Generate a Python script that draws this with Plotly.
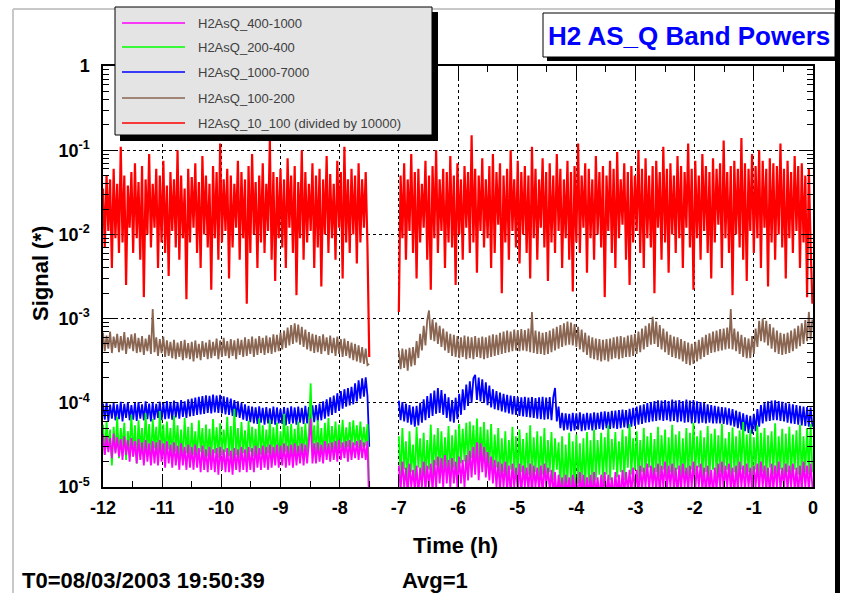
import plotly.graph_objects as go

# ---------------- data ----------------
STEP_H = 0.03            # sampling step (hours)
START_A = -12.0          # first segment start
START_B = -7.0           # second segment start (after the data gap)

SERIES_NAMES = ["H2AsQ_400-1000", "H2AsQ_200-400", "H2AsQ_1000-7000",
                "H2AsQ_100-200", "H2AsQ_10_100 (divided by 10000)"]

RED_A = [0.035, 0.007, 0.05, 0.011, 0.045, 0.004, 0.06, 0.009, 0.04, 0.006,
         0.11, 0.008, 0.05, 0.0025, 0.038, 0.012, 0.055, 0.006, 0.07, 0.009,
         0.042, 0.005, 0.065, 0.0018, 0.045, 0.01, 0.09, 0.007, 0.04, 0.012,
         0.06, 0.004, 0.05, 0.008, 0.075, 0.006, 0.038, 0.0032, 0.055, 0.011,
         0.045, 0.007, 0.1, 0.005, 0.05, 0.009, 0.035, 0.0017, 0.06, 0.008,
         0.048, 0.012, 0.07, 0.006, 0.042, 0.004, 0.085, 0.01, 0.05, 0.007,
         0.04, 0.0022, 0.065, 0.009, 0.055, 0.005, 0.12, 0.008, 0.045, 0.011,
         0.06, 0.003, 0.05, 0.007, 0.04, 0.012, 0.075, 0.005, 0.055, 0.009,
         0.045, 0.0015, 0.065, 0.006, 0.09, 0.01, 0.042, 0.004, 0.05, 0.008,
         0.07, 0.006, 0.04, 0.011, 0.13, 0.005, 0.055, 0.0028, 0.048, 0.009,
         0.06, 0.007, 0.045, 0.004, 0.08, 0.012, 0.05, 0.006, 0.065, 0.0019,
         0.042, 0.009, 0.1, 0.005, 0.055, 0.008, 0.04, 0.011, 0.07, 0.004,
         0.05, 0.007, 0.06, 0.0024, 0.045, 0.01, 0.085, 0.006, 0.052, 0.009,
         0.04, 0.005, 0.075, 0.012, 0.055, 0.003, 0.11, 0.008, 0.045, 0.006,
         0.06, 0.01, 0.05, 0.0045, 0.07, 0.008, 0.045, 0.012, 0.055, 0.007,
         0.00035]
RED_B = [0.0012, 0.05, 0.009, 0.07, 0.005, 0.045, 0.011, 0.09, 0.006, 0.055,
         0.003, 0.06, 0.008, 0.04, 0.012, 0.075, 0.005, 0.05, 0.0022, 0.065,
         0.009, 0.1, 0.006, 0.045, 0.011, 0.06, 0.004, 0.055, 0.008, 0.085,
         0.007, 0.05, 0.0025, 0.07, 0.01, 0.045, 0.005, 0.065, 0.012, 0.055,
         0.006, 0.15, 0.008, 0.06, 0.0035, 0.05, 0.011, 0.08, 0.007, 0.045,
         0.009, 0.065, 0.004, 0.09, 0.006, 0.055, 0.013, 0.07, 0.002, 0.05,
         0.008, 0.06, 0.005, 0.1, 0.011, 0.045, 0.007, 0.075, 0.0045, 0.055,
         0.01, 0.065, 0.006, 0.05, 0.003, 0.11, 0.009, 0.06, 0.005, 0.045,
         0.012, 0.08, 0.007, 0.055, 0.0028, 0.07, 0.008, 0.05, 0.006, 0.09,
         0.011, 0.06, 0.004, 0.045, 0.009, 0.075, 0.005, 0.055, 0.0021, 0.065,
         0.008, 0.12, 0.006, 0.05, 0.012, 0.07, 0.0035, 0.06, 0.009, 0.045,
         0.005, 0.085, 0.01, 0.055, 0.007, 0.065, 0.0018, 0.05, 0.011, 0.075,
         0.006, 0.06, 0.004, 0.095, 0.009, 0.045, 0.013, 0.07, 0.005, 0.055,
         0.0025, 0.065, 0.008, 0.05, 0.011, 0.1, 0.006, 0.06, 0.004, 0.08,
         0.009, 0.05, 0.007, 0.065, 0.002, 0.075, 0.012, 0.055, 0.005, 0.11,
         0.008, 0.06, 0.0035, 0.07, 0.01, 0.05, 0.006, 0.085, 0.009, 0.065,
         0.004, 0.055, 0.012, 0.12, 0.007, 0.06, 0.0022, 0.075, 0.009, 0.05,
         0.005, 0.09, 0.011, 0.065, 0.006, 0.055, 0.003, 0.08, 0.008, 0.06,
         0.013, 0.07, 0.004, 0.13, 0.009, 0.055, 0.006, 0.065, 0.0019, 0.075,
         0.01, 0.06, 0.007, 0.14, 0.005, 0.07, 0.0028, 0.06, 0.011, 0.09,
         0.006, 0.065, 0.009, 0.1, 0.004, 0.075, 0.012, 0.06, 0.0024, 0.08,
         0.008, 0.07, 0.005, 0.065, 0.01, 0.12, 0.007, 0.06, 0.003, 0.075,
         0.009, 0.055, 0.006, 0.085, 0.011, 0.065, 0.004, 0.07, 0.008, 0.05,
         0.0018, 0.06, 0.007, 0.0015]

BROWN_A = [6.8e-4, 4.1e-4, 6.3e-4, 4.4e-4, 7.0e-4, 3.9e-4, 6.1e-4, 4.5e-4, 6.6e-4, 4.0e-4,
           6.2e-4, 4.2e-4, 6.9e-4, 3.8e-4, 6.0e-4, 4.4e-4, 6.5e-4, 4.1e-4, 6.7e-4, 3.9e-4,
           5.9e-4, 4.0e-4, 6.2e-4, 3.7e-4, 5.8e-4, 4.1e-4, 6.4e-4, 3.8e-4, 1.3e-3, 4.0e-4,
           6.0e-4, 3.6e-4, 5.7e-4, 3.9e-4, 6.1e-4, 3.5e-4, 5.5e-4, 3.6e-4, 5.3e-4, 3.4e-4,
           5.6e-4, 3.3e-4, 5.2e-4, 3.5e-4, 5.4e-4, 3.2e-4, 5.6e-4, 3.4e-4, 5.1e-4, 3.3e-4,
           5.3e-4, 3.1e-4, 5.5e-4, 3.4e-4, 5.0e-4, 3.2e-4, 5.4e-4, 3.5e-4, 5.2e-4, 3.3e-4,
           5.6e-4, 3.4e-4, 5.3e-4, 3.6e-4, 5.8e-4, 3.3e-4, 5.5e-4, 3.5e-4, 5.9e-4, 3.6e-4,
           5.4e-4, 3.4e-4, 5.7e-4, 3.6e-4, 5.5e-4, 3.3e-4, 5.8e-4, 3.7e-4, 5.6e-4, 3.5e-4,
           6.0e-4, 3.6e-4, 5.7e-4, 3.8e-4, 6.1e-4, 3.5e-4, 5.8e-4, 3.7e-4, 6.2e-4, 3.9e-4,
           5.9e-4, 3.7e-4, 6.3e-4, 3.9e-4, 6.0e-4, 3.8e-4, 6.5e-4, 4.0e-4, 6.4e-4, 4.1e-4,
           6.8e-4, 4.3e-4, 7.2e-4, 4.5e-4, 7.8e-4, 4.8e-4, 8.4e-4, 5.0e-4, 8.8e-4, 5.2e-4,
           8.5e-4, 4.9e-4, 8.0e-4, 4.6e-4, 7.4e-4, 4.3e-4, 6.9e-4, 4.1e-4, 6.6e-4, 3.9e-4,
           6.4e-4, 4.0e-4, 6.2e-4, 3.8e-4, 6.5e-4, 4.1e-4, 6.0e-4, 3.7e-4, 6.3e-4, 3.9e-4,
           5.9e-4, 3.6e-4, 6.1e-4, 3.8e-4, 5.7e-4, 3.5e-4, 5.8e-4, 3.6e-4, 5.4e-4, 3.4e-4,
           5.2e-4, 3.2e-4, 5.0e-4, 3.1e-4, 4.8e-4, 3.0e-4, 4.6e-4, 2.9e-4, 4.4e-4, 2.8e-4,
           2.9e-4]
BROWN_B = [4.2e-4, 2.5e-4, 4.4e-4, 2.6e-4, 4.3e-4, 2.4e-4, 4.5e-4, 2.7e-4, 4.6e-4, 2.8e-4,
           5.4e-4, 3.4e-4, 6.6e-4, 4.2e-4, 8.2e-4, 4.8e-4, 9.6e-4, 1.25e-3, 5.6e-4, 9.8e-4,
           5.4e-4, 9.0e-4, 5.0e-4, 8.2e-4, 4.6e-4, 7.6e-4, 4.2e-4, 7.0e-4, 3.9e-4, 6.6e-4,
           3.6e-4, 6.4e-4, 3.5e-4, 6.2e-4, 3.4e-4, 6.0e-4, 3.5e-4, 6.3e-4, 3.3e-4, 6.1e-4,
           3.4e-4, 6.0e-4, 3.3e-4, 6.2e-4, 3.5e-4, 5.9e-4, 3.4e-4, 6.1e-4, 3.3e-4, 6.0e-4,
           3.4e-4, 6.3e-4, 3.5e-4, 6.5e-4, 3.6e-4, 6.4e-4, 3.7e-4, 6.8e-4, 3.8e-4, 7.0e-4,
           3.9e-4, 7.2e-4, 4.0e-4, 7.0e-4, 4.1e-4, 7.4e-4, 4.2e-4, 7.3e-4, 4.1e-4, 7.5e-4,
           4.2e-4, 7.3e-4, 4.1e-4, 7.6e-4, 4.0e-4, 1.2e-3, 3.9e-4, 7.2e-4, 3.8e-4, 7.0e-4,
           3.8e-4, 6.8e-4, 3.7e-4, 6.9e-4, 3.8e-4, 7.2e-4, 4.0e-4, 7.6e-4, 4.2e-4, 8.0e-4,
           4.4e-4, 8.4e-4, 4.6e-4, 8.8e-4, 4.8e-4, 9.2e-4, 4.9e-4, 9.0e-4, 4.8e-4, 8.6e-4,
           4.6e-4, 8.0e-4, 4.3e-4, 7.4e-4, 4.0e-4, 6.8e-4, 3.7e-4, 6.3e-4, 3.4e-4, 6.0e-4,
           3.3e-4, 5.8e-4, 3.2e-4, 5.7e-4, 3.1e-4, 5.6e-4, 3.2e-4, 5.7e-4, 3.1e-4, 5.8e-4,
           3.3e-4, 6.0e-4, 3.4e-4, 6.1e-4, 3.3e-4, 6.2e-4, 3.4e-4, 6.0e-4, 3.5e-4, 6.3e-4,
           3.5e-4, 6.4e-4, 3.6e-4, 6.6e-4, 3.8e-4, 7.0e-4, 4.0e-4, 7.6e-4, 4.3e-4, 8.2e-4,
           4.6e-4, 8.8e-4, 4.9e-4, 1.05e-3, 5.0e-4, 9.2e-4, 4.6e-4, 8.4e-4, 4.3e-4, 7.6e-4,
           4.0e-4, 7.0e-4, 3.7e-4, 6.4e-4, 3.5e-4, 6.1e-4, 3.4e-4, 6.0e-4, 3.3e-4, 5.7e-4,
           3.1e-4, 5.4e-4, 2.9e-4, 5.2e-4, 2.8e-4, 5.0e-4, 2.9e-4, 5.3e-4, 3.1e-4, 5.6e-4,
           3.3e-4, 6.0e-4, 3.5e-4, 6.4e-4, 3.7e-4, 6.7e-4, 3.9e-4, 7.0e-4, 4.0e-4, 7.2e-4,
           4.1e-4, 7.5e-4, 4.2e-4, 7.6e-4, 4.3e-4, 7.8e-4, 4.4e-4, 1.3e-3, 4.3e-4, 7.6e-4,
           4.1e-4, 7.0e-4, 3.8e-4, 6.4e-4, 3.5e-4, 6.0e-4, 3.4e-4, 5.8e-4, 3.4e-4, 6.2e-4,
           3.8e-4, 7.6e-4, 4.6e-4, 9.4e-4, 5.4e-4, 1.0e-3, 5.2e-4, 9.4e-4, 4.8e-4, 8.6e-4,
           4.4e-4, 7.8e-4, 4.0e-4, 7.2e-4, 3.8e-4, 6.8e-4, 3.7e-4, 6.6e-4, 3.8e-4, 6.8e-4,
           3.9e-4, 7.2e-4, 4.1e-4, 7.6e-4, 4.4e-4, 8.2e-4, 4.7e-4, 8.8e-4, 5.0e-4, 9.6e-4,
           5.4e-4, 1.2e-3, 5.6e-4, 9.8e-4]

BLUE_A = [9.8e-5, 6.3e-5, 1.02e-4, 6.1e-5, 9.5e-5, 6.5e-5, 1.0e-4, 6.2e-5, 9.6e-5, 6.4e-5,
          1.03e-4, 6.0e-5, 9.7e-5, 6.6e-5, 1.01e-4, 6.2e-5, 9.4e-5, 6.3e-5, 9.9e-5, 6.1e-5,
          1.02e-4, 6.5e-5, 9.6e-5, 6.2e-5, 1.04e-4, 6.4e-5, 9.8e-5, 6.0e-5, 1.0e-4, 6.3e-5,
          9.7e-5, 6.6e-5, 1.03e-4, 6.2e-5, 9.9e-5, 6.4e-5, 1.05e-4, 6.5e-5, 1.01e-4, 6.3e-5,
          1.06e-4, 6.7e-5, 1.02e-4, 6.5e-5, 1.08e-4, 6.8e-5, 1.04e-4, 6.6e-5, 1.1e-4, 6.9e-5,
          1.12e-4, 7.0e-5, 1.15e-4, 7.2e-5, 1.18e-4, 7.3e-5, 1.2e-4, 7.4e-5, 1.23e-4, 7.6e-5,
          1.21e-4, 7.5e-5, 1.25e-4, 7.7e-5, 1.22e-4, 7.6e-5, 1.24e-4, 7.5e-5, 1.19e-4, 7.3e-5,
          1.16e-4, 7.2e-5, 1.12e-4, 7.0e-5, 1.08e-4, 6.8e-5, 1.04e-4, 6.6e-5, 1.0e-4, 6.3e-5,
          9.6e-5, 6.1e-5, 9.2e-5, 5.9e-5, 9.0e-5, 5.7e-5, 8.8e-5, 5.6e-5, 9.1e-5, 5.8e-5,
          8.7e-5, 5.5e-5, 8.9e-5, 5.7e-5, 8.6e-5, 5.6e-5, 9.0e-5, 5.5e-5, 8.8e-5, 5.7e-5,
          8.5e-5, 5.6e-5, 8.9e-5, 5.4e-5, 8.7e-5, 5.6e-5, 9.1e-5, 5.7e-5, 8.8e-5, 5.5e-5,
          9.0e-5, 5.8e-5, 8.7e-5, 5.6e-5, 9.2e-5, 5.7e-5, 8.9e-5, 5.8e-5, 9.3e-5, 5.9e-5,
          9.4e-5, 6.0e-5, 9.8e-5, 6.2e-5, 1.04e-4, 6.5e-5, 1.1e-4, 6.9e-5, 1.16e-4, 7.2e-5,
          1.22e-4, 7.6e-5, 1.3e-4, 8.0e-5, 1.38e-4, 8.5e-5, 1.45e-4, 9.0e-5, 1.5e-4, 9.3e-5,
          1.55e-4, 9.6e-5, 1.7e-4, 1.04e-4, 1.85e-4, 1.12e-4, 1.95e-4, 1.18e-4, 2.0e-4, 1.2e-4,
          3.0e-5]
BLUE_B = [1.06e-4, 6.2e-5, 1.02e-4, 6.0e-5, 9.8e-5, 5.8e-5, 9.4e-5, 5.5e-5, 9.0e-5, 5.2e-5,
          9.2e-5, 5.4e-5, 1.0e-4, 5.8e-5, 1.1e-4, 6.2e-5, 1.2e-4, 6.6e-5, 1.3e-4, 7.0e-5,
          1.4e-4, 7.4e-5, 1.5e-4, 7.6e-5, 1.42e-4, 7.2e-5, 1.28e-4, 6.6e-5, 1.16e-4, 6.0e-5,
          1.08e-4, 5.8e-5, 1.15e-4, 6.4e-5, 1.28e-4, 7.2e-5, 1.45e-4, 8.2e-5, 1.65e-4, 9.2e-5,
          1.8e-4, 1.0e-4, 1.95e-4, 2.15e-4, 1.08e-4, 2.0e-4, 1.04e-4, 1.9e-4, 1.0e-4, 1.75e-4,
          9.4e-5, 1.6e-4, 8.8e-5, 1.45e-4, 8.4e-5, 1.38e-4, 8.2e-5, 1.32e-4, 7.9e-5, 1.28e-4,
          7.7e-5, 1.24e-4, 7.5e-5, 1.22e-4, 7.3e-5, 1.2e-4, 7.2e-5, 1.18e-4, 7.0e-5, 1.16e-4,
          6.9e-5, 1.18e-4, 6.8e-5, 1.15e-4, 6.7e-5, 1.17e-4, 6.6e-5, 1.14e-4, 6.5e-5, 1.16e-4,
          6.4e-5, 1.18e-4, 6.3e-5, 1.15e-4, 6.4e-5, 1.17e-4, 6.2e-5, 1.16e-4, 1.5e-4, 6.0e-5,
          9.0e-5, 5.0e-5, 7.6e-5, 4.7e-5, 7.5e-5, 4.8e-5, 7.4e-5, 4.6e-5, 7.6e-5, 4.7e-5,
          7.5e-5, 4.8e-5, 7.7e-5, 4.6e-5, 7.4e-5, 4.7e-5, 7.6e-5, 4.8e-5, 7.5e-5, 4.7e-5,
          7.7e-5, 4.8e-5, 7.6e-5, 4.9e-5, 7.8e-5, 4.8e-5, 7.9e-5, 5.0e-5, 7.8e-5, 4.9e-5,
          8.0e-5, 5.0e-5, 8.1e-5, 4.9e-5, 8.2e-5, 5.0e-5, 8.3e-5, 5.1e-5, 8.2e-5, 5.0e-5,
          8.5e-5, 5.2e-5, 8.7e-5, 5.3e-5, 9.0e-5, 5.5e-5, 9.3e-5, 5.6e-5, 9.6e-5, 5.8e-5,
          9.9e-5, 5.9e-5, 1.02e-4, 6.0e-5, 1.05e-4, 6.1e-5, 1.07e-4, 6.2e-5, 1.06e-4, 6.1e-5,
          1.08e-4, 6.2e-5, 1.05e-4, 6.0e-5, 1.09e-4, 6.1e-5, 1.06e-4, 5.9e-5, 1.08e-4, 6.0e-5,
          1.05e-4, 5.8e-5, 1.09e-4, 5.9e-5, 1.06e-4, 5.7e-5, 1.08e-4, 5.8e-5, 1.04e-4, 5.7e-5,
          1.02e-4, 5.8e-5, 9.9e-5, 5.7e-5, 9.6e-5, 5.8e-5, 9.4e-5, 5.7e-5, 9.2e-5, 5.7e-5,
          9.0e-5, 5.7e-5, 8.9e-5, 5.6e-5, 8.8e-5, 5.5e-5, 8.6e-5, 5.4e-5, 8.4e-5, 5.2e-5,
          8.1e-5, 5.0e-5, 7.8e-5, 4.8e-5, 7.5e-5, 4.6e-5, 7.2e-5, 4.4e-5, 7.0e-5, 4.3e-5,
          7.4e-5, 4.6e-5, 8.4e-5, 5.2e-5, 9.4e-5, 5.7e-5, 1.0e-4, 6.0e-5, 1.04e-4, 6.1e-5,
          1.06e-4, 6.2e-5, 1.07e-4, 6.2e-5, 1.05e-4, 6.1e-5, 1.03e-4, 6.0e-5, 1.0e-4, 5.8e-5,
          9.8e-5, 5.7e-5, 9.6e-5, 5.6e-5, 9.4e-5, 5.5e-5, 9.2e-5, 5.4e-5, 9.0e-5, 5.3e-5,
          8.9e-5, 5.2e-5, 8.8e-5, 5.2e-5]

GREEN_A = [5.5e-5, 2.4e-5, 6.0e-5, 2.8e-5, 4.8e-5, 1.8e-5, 5.2e-5, 2.6e-5, 6.8e-5, 2.2e-5,
           5.0e-5, 2.9e-5, 5.8e-5, 2.1e-5, 4.6e-5, 2.7e-5, 7.2e-5, 2.3e-5, 5.4e-5, 1.9e-5,
           6.2e-5, 2.8e-5, 5.0e-5, 2.4e-5, 7.5e-5, 2.6e-5, 5.6e-5, 2.0e-5, 6.4e-5, 2.9e-5,
           5.2e-5, 2.3e-5, 8.0e-5, 2.7e-5, 5.5e-5, 2.2e-5, 6.0e-5, 2.8e-5, 5.0e-5, 2.1e-5,
           7.0e-5, 2.6e-5, 5.4e-5, 2.3e-5, 4.8e-5, 2.0e-5, 6.6e-5, 2.5e-5, 5.2e-5, 1.9e-5,
           5.8e-5, 2.4e-5, 4.6e-5, 2.2e-5, 6.2e-5, 2.6e-5, 5.0e-5, 2.0e-5, 5.5e-5, 2.3e-5,
           4.9e-5, 2.1e-5, 6.4e-5, 2.5e-5, 5.1e-5, 2.2e-5, 5.7e-5, 2.4e-5, 4.8e-5, 2.6e-5,
           6.8e-5, 2.3e-5, 5.3e-5, 2.0e-5, 8.5e-5, 2.4e-5, 5.0e-5, 2.2e-5, 5.9e-5, 2.5e-5,
           4.7e-5, 2.1e-5, 6.1e-5, 2.6e-5, 5.2e-5, 2.3e-5, 4.9e-5, 1.9e-5, 6.5e-5, 2.4e-5,
           5.4e-5, 2.2e-5, 4.8e-5, 2.5e-5, 6.3e-5, 2.1e-5, 5.1e-5, 2.4e-5, 5.8e-5, 2.0e-5,
           4.6e-5, 2.3e-5, 7.4e-5, 2.6e-5, 5.3e-5, 2.2e-5, 5.6e-5, 2.4e-5, 4.9e-5, 2.1e-5,
           6.0e-5, 2.5e-5, 5.2e-5, 2.3e-5, 5.7e-5, 2.6e-5, 4.8e-5, 1.7e-4, 2.7e-5, 5.4e-5,
           2.4e-5, 6.2e-5, 2.6e-5, 5.0e-5, 2.3e-5, 5.8e-5, 2.7e-5, 6.6e-5, 2.5e-5, 5.3e-5,
           2.8e-5, 6.0e-5, 2.6e-5, 5.5e-5, 2.9e-5, 6.3e-5, 2.7e-5, 5.1e-5, 3.0e-5, 5.9e-5,
           2.8e-5, 6.2e-5, 3.1e-5, 5.4e-5, 2.9e-5, 6.0e-5, 3.0e-5, 5.2e-5, 3.1e-5, 5.6e-5,
           1.0e-5]
GREEN_B = [4.0e-5, 1.3e-5, 5.0e-5, 1.6e-5, 3.5e-5, 1.1e-5, 4.6e-5, 1.5e-5, 3.2e-5, 1.2e-5,
           5.2e-5, 1.7e-5, 3.8e-5, 1.4e-5, 4.4e-5, 1.2e-5, 3.6e-5, 1.6e-5, 5.5e-5, 1.3e-5,
           4.2e-5, 1.8e-5, 5.0e-5, 1.5e-5, 4.6e-5, 1.4e-5, 3.9e-5, 1.6e-5, 5.3e-5, 1.3e-5,
           4.1e-5, 1.7e-5, 4.8e-5, 1.5e-5, 5.6e-5, 1.9e-5, 4.9e-5, 2.0e-5, 5.8e-5, 1.8e-5,
           6.0e-5, 2.2e-5, 5.4e-5, 2.0e-5, 6.5e-5, 1.9e-5, 5.2e-5, 2.1e-5, 5.9e-5, 1.8e-5,
           4.8e-5, 1.6e-5, 5.6e-5, 1.4e-5, 4.2e-5, 1.7e-5, 5.0e-5, 1.3e-5, 3.8e-5, 1.5e-5,
           4.6e-5, 1.2e-5, 3.6e-5, 1.6e-5, 5.2e-5, 1.4e-5, 4.0e-5, 1.3e-5, 4.8e-5, 1.5e-5,
           3.7e-5, 1.2e-5, 4.4e-5, 1.4e-5, 5.4e-5, 1.3e-5, 3.9e-5, 1.5e-5, 4.6e-5, 1.2e-5,
           4.0e-5, 1.4e-5, 5.0e-5, 1.3e-5, 3.6e-5, 1.5e-5, 4.5e-5, 1.2e-5, 3.8e-5, 1.6e-5,
           3.4e-5, 1.0e-5, 4.0e-5, 0.9e-5, 3.2e-5, 1.1e-5, 4.4e-5, 1.0e-5, 3.5e-5, 0.9e-5,
           4.2e-5, 1.1e-5, 3.3e-5, 1.0e-5, 3.8e-5, 0.9e-5, 4.5e-5, 1.1e-5, 3.6e-5, 1.0e-5,
           4.8e-5, 1.2e-5, 3.6e-5, 1.4e-5, 4.4e-5, 1.1e-5, 3.9e-5, 1.4e-5, 5.4e-5, 1.2e-5,
           3.7e-5, 1.6e-5, 4.5e-5, 1.3e-5, 3.5e-5, 1.5e-5, 4.8e-5, 1.2e-5, 4.0e-5, 1.7e-5,
           5.6e-5, 1.4e-5, 3.8e-5, 1.6e-5, 4.6e-5, 1.2e-5, 3.6e-5, 1.5e-5, 5.0e-5, 1.3e-5,
           4.0e-5, 1.7e-5, 4.4e-5, 1.2e-5, 3.7e-5, 1.5e-5, 5.2e-5, 1.3e-5, 4.1e-5, 1.6e-5,
           4.8e-5, 1.2e-5, 3.9e-5, 1.5e-5, 5.5e-5, 1.3e-5, 4.2e-5, 1.6e-5, 4.6e-5, 1.1e-5,
           3.8e-5, 1.4e-5, 5.0e-5, 1.2e-5, 4.4e-5, 1.6e-5, 5.8e-5, 1.4e-5, 4.0e-5, 1.7e-5,
           4.7e-5, 1.3e-5, 3.9e-5, 1.5e-5, 5.3e-5, 1.2e-5, 4.3e-5, 1.6e-5, 4.9e-5, 1.3e-5,
           4.1e-5, 1.5e-5, 5.6e-5, 1.4e-5, 3.8e-5, 1.6e-5, 4.5e-5, 1.2e-5, 5.1e-5, 1.5e-5,
           4.0e-5, 1.3e-5, 4.7e-5, 1.6e-5, 5.9e-5, 1.4e-5, 4.2e-5, 1.5e-5, 4.8e-5, 1.2e-5,
           3.9e-5, 1.6e-5, 5.4e-5, 1.3e-5, 4.4e-5, 1.5e-5, 5.0e-5, 1.2e-5, 4.1e-5, 1.7e-5,
           4.6e-5, 1.4e-5, 5.7e-5, 1.3e-5, 4.0e-5, 1.6e-5, 4.9e-5, 1.2e-5, 4.3e-5, 1.5e-5,
           5.2e-5, 1.3e-5, 4.2e-5, 1.6e-5, 4.7e-5, 1.4e-5, 5.5e-5, 1.3e-5, 4.0e-5, 1.5e-5,
           5.0e-5, 1.4e-5, 5.6e-5, 1.5e-5]

MAGENTA_A = [4.2e-5, 2.4e-5, 4.0e-5, 2.6e-5, 3.8e-5, 2.2e-5, 4.3e-5, 2.5e-5, 3.9e-5, 2.3e-5,
             3.7e-5, 2.1e-5, 4.0e-5, 2.4e-5, 3.6e-5, 2.0e-5, 3.8e-5, 2.3e-5, 3.5e-5, 1.9e-5,
             3.7e-5, 2.1e-5, 3.4e-5, 1.8e-5, 3.6e-5, 2.0e-5, 3.3e-5, 1.8e-5, 3.5e-5, 1.9e-5,
             3.4e-5, 1.8e-5, 3.6e-5, 2.0e-5, 3.3e-5, 1.7e-5, 3.5e-5, 1.9e-5, 3.2e-5, 1.7e-5,
             3.4e-5, 1.8e-5, 3.1e-5, 1.6e-5, 3.3e-5, 1.8e-5, 3.0e-5, 1.6e-5, 3.2e-5, 1.7e-5,
             3.0e-5, 1.6e-5, 3.2e-5, 1.7e-5, 2.9e-5, 1.5e-5, 3.1e-5, 1.6e-5, 2.8e-5, 1.5e-5,
             3.0e-5, 1.6e-5, 2.8e-5, 1.5e-5, 2.9e-5, 1.4e-5, 3.0e-5, 1.6e-5, 2.8e-5, 1.5e-5,
             2.9e-5, 1.5e-5, 2.7e-5, 1.4e-5, 2.9e-5, 1.6e-5, 2.8e-5, 1.5e-5, 3.0e-5, 1.6e-5,
             2.8e-5, 1.5e-5, 3.0e-5, 1.6e-5, 2.9e-5, 1.5e-5, 3.1e-5, 1.7e-5, 2.9e-5, 1.6e-5,
             3.1e-5, 1.7e-5, 3.0e-5, 1.6e-5, 3.2e-5, 1.7e-5, 3.0e-5, 1.8e-5, 3.2e-5, 1.7e-5,
             3.1e-5, 1.8e-5, 3.3e-5, 1.7e-5, 3.1e-5, 1.8e-5, 3.2e-5, 1.7e-5, 3.3e-5, 1.8e-5,
             3.1e-5, 1.9e-5, 3.3e-5, 1.8e-5, 3.2e-5, 1.9e-5, 3.4e-5, 6.5e-5, 1.9e-5, 3.3e-5,
             1.9e-5, 3.4e-5, 2.0e-5, 3.2e-5, 1.9e-5, 3.5e-5, 2.1e-5, 3.3e-5, 2.0e-5, 3.4e-5,
             2.1e-5, 3.5e-5, 2.0e-5, 3.6e-5, 2.1e-5, 3.4e-5, 2.2e-5, 3.5e-5, 2.0e-5, 3.6e-5,
             2.1e-5, 3.4e-5, 2.2e-5, 3.5e-5, 2.1e-5, 3.6e-5, 2.2e-5, 3.4e-5, 2.1e-5, 3.5e-5,
             0.5e-5]
MAGENTA_B = [1.8e-5, 0.9e-5, 2.0e-5, 1.0e-5, 1.7e-5, 0.8e-5, 1.9e-5, 1.0e-5, 1.6e-5, 0.9e-5,
             1.8e-5, 0.8e-5, 1.7e-5, 1.0e-5, 2.0e-5, 0.9e-5, 1.8e-5, 1.0e-5, 1.9e-5, 0.9e-5,
             2.1e-5, 1.0e-5, 2.3e-5, 1.1e-5, 2.2e-5, 1.0e-5, 2.4e-5, 1.1e-5, 2.1e-5, 1.0e-5,
             2.2e-5, 1.1e-5, 2.0e-5, 1.0e-5, 2.3e-5, 1.1e-5, 2.1e-5, 1.0e-5, 2.4e-5, 1.2e-5,
             2.7e-5, 1.3e-5, 3.0e-5, 1.4e-5, 3.4e-5, 1.2e-5, 3.3e-5, 1.5e-5, 3.0e-5, 1.3e-5,
             2.6e-5, 1.2e-5, 2.3e-5, 1.1e-5, 2.1e-5, 1.0e-5, 2.0e-5, 0.9e-5, 1.9e-5, 1.0e-5,
             2.0e-5, 0.9e-5, 1.8e-5, 0.8e-5, 1.9e-5, 1.0e-5, 1.7e-5, 0.9e-5, 1.9e-5, 0.8e-5,
             1.8e-5, 1.0e-5, 1.7e-5, 0.9e-5, 1.9e-5, 0.8e-5, 1.8e-5, 1.0e-5, 1.7e-5, 0.9e-5,
             1.8e-5, 0.8e-5, 1.9e-5, 1.0e-5, 1.7e-5, 0.9e-5, 1.6e-5, 0.8e-5, 1.5e-5, 0.7e-5,
             1.4e-5, 0.8e-5, 1.3e-5, 0.7e-5, 1.4e-5, 0.8e-5, 1.3e-5, 0.7e-5, 1.4e-5, 0.8e-5,
             1.3e-5, 0.7e-5, 1.5e-5, 0.8e-5, 1.4e-5, 0.7e-5, 1.3e-5, 0.8e-5, 1.4e-5, 0.7e-5,
             1.5e-5, 0.8e-5, 1.3e-5, 0.7e-5, 1.4e-5, 0.8e-5, 1.5e-5, 0.7e-5, 1.4e-5, 0.8e-5,
             1.3e-5, 0.7e-5, 1.5e-5, 0.8e-5, 1.4e-5, 0.7e-5, 1.6e-5, 0.8e-5, 1.5e-5, 0.9e-5,
             1.6e-5, 0.8e-5, 1.7e-5, 0.9e-5, 1.6e-5, 0.8e-5, 1.8e-5, 0.9e-5, 1.7e-5, 1.0e-5,
             1.9e-5, 0.9e-5, 1.8e-5, 1.0e-5, 1.7e-5, 0.9e-5, 1.9e-5, 0.8e-5, 1.8e-5, 1.0e-5,
             2.0e-5, 0.9e-5, 1.8e-5, 1.0e-5, 1.9e-5, 0.9e-5, 1.7e-5, 0.8e-5, 1.8e-5, 0.9e-5,
             1.9e-5, 1.0e-5, 1.7e-5, 0.9e-5, 1.8e-5, 1.0e-5, 2.0e-5, 0.9e-5, 1.8e-5, 1.0e-5,
             1.9e-5, 0.9e-5, 1.7e-5, 0.8e-5, 1.8e-5, 0.9e-5, 1.6e-5, 0.8e-5, 1.7e-5, 0.9e-5,
             1.9e-5, 1.0e-5, 2.0e-5, 0.9e-5, 1.8e-5, 1.0e-5, 1.9e-5, 0.9e-5, 1.7e-5, 0.8e-5,
             1.8e-5, 0.9e-5, 2.0e-5, 1.0e-5, 1.8e-5, 0.9e-5, 1.9e-5, 1.0e-5, 1.7e-5, 0.9e-5,
             1.8e-5, 1.0e-5, 1.9e-5, 0.9e-5, 2.0e-5, 1.0e-5, 1.8e-5, 0.9e-5, 1.7e-5, 0.8e-5,
             1.9e-5, 0.9e-5, 1.8e-5, 1.0e-5, 2.0e-5, 0.9e-5, 1.7e-5, 1.0e-5, 1.9e-5, 0.9e-5,
             1.8e-5, 1.0e-5, 1.9e-5, 0.9e-5, 1.7e-5, 0.8e-5, 1.8e-5, 0.9e-5, 2.0e-5, 1.0e-5,
             1.8e-5, 0.9e-5, 1.9e-5, 1.0e-5]

X_TICKS = [-12, -11, -10, -9, -8, -7, -6, -5, -4, -3, -2, -1, 0]
X_TICK_TEXT = ["-12", "-11", "-10", "-9", "-8", "-7", "-6", "-5", "-4", "-3", "-2", "-1", "0"]
Y_TICKS = [1e-5, 1e-4, 1e-3, 1e-2, 1e-1, 1]
Y_TICK_TEXT = ["10<sup>-5</sup>", "10<sup>-4</sup>", "10<sup>-3</sup>",
               "10<sup>-2</sup>", "10<sup>-1</sup>", "1"]

# ---------------- layout helpers ----------------
W, H = 851, 593
L, R, T, B = 103, 813, 66, 487
FONT = "Liberation Sans"


def px(x):
    return (x - L) / (R - L)


def py(y):
    return (B - y) / (B - T)


def times(start, n):
    return [round(start + STEP_H * i, 4) for i in range(n)]


COLORS = {"mag": "#ff00ff", "green": "#00ff00", "blue": "#0000ff",
          "brown": "#8a6652", "red": "#ff0000"}
WIDTHS = {"mag": 1.8, "green": 1.8, "blue": 1.8, "brown": 1.8, "red": 2.2}

# drawing order: red (bottom) ... magenta (top)
draw = [("red", RED_A, RED_B), ("brown", BROWN_A, BROWN_B),
        ("blue", BLUE_A, BLUE_B), ("green", GREEN_A, GREEN_B),
        ("mag", MAGENTA_A, MAGENTA_B)]

fig = go.Figure()
for key, a, b in draw:
    xs = times(START_A, len(a)) + [None] + times(START_B, len(b))
    ys = a + [None] + b
    fig.add_trace(go.Scatter(x=xs, y=ys, mode="lines",
                             line=dict(color=COLORS[key], width=WIDTHS[key]),
                             showlegend=False, hoverinfo="skip"))

minor_y = [m * 10.0 ** e for e in range(-5, 0) for m in range(2, 10)]

fig.update_layout(
    width=W, height=H,
    margin=dict(l=L, r=W - R, t=T, b=H - B, pad=0),
    paper_bgcolor="white", plot_bgcolor="white",
    font=dict(family=FONT, color="black"),
    xaxis=dict(range=[-12, 0], tickmode="array", tickvals=X_TICKS, ticktext=X_TICK_TEXT,
               ticks="inside", ticklen=12, tickwidth=1, tickcolor="black",
               showline=True, linecolor="black", linewidth=1.5, mirror="ticks",
               showgrid=True, gridcolor="black", gridwidth=1, griddash="3px,3px",
               zeroline=False, ticklabelstandoff=4,
               tickfont=dict(family=FONT, size=18, color="black", weight="bold"),
               minor=dict(tickmode="linear", tick0=0, dtick=0.5, ticks="inside",
                          ticklen=6, tickcolor="black", showgrid=False)),
    yaxis=dict(type="log", range=[-5, 0], tickmode="array", tickvals=Y_TICKS,
               ticktext=Y_TICK_TEXT, ticks="inside", ticklen=12, tickwidth=1,
               tickcolor="black", showline=True, linecolor="black", linewidth=1.5,
               mirror="ticks", showgrid=True, gridcolor="black", gridwidth=1,
               griddash="3px,3px", zeroline=False, ticklabelstandoff=8,
               tickfont=dict(family=FONT, size=18, color="black", weight="bold"),
               minor=dict(tickmode="array", tickvals=minor_y, ticks="inside",
                          ticklen=6, tickcolor="black", showgrid=False)),
)

shapes = []
# canvas border (grey, left/top) and dark right edge
shapes.append(dict(type="line", xref="paper", yref="paper", x0=px(13), x1=px(13),
                   y0=py(9), y1=py(H), line=dict(color="#c8c8c8", width=2)))
shapes.append(dict(type="line", xref="paper", yref="paper", x0=px(13), x1=px(835),
                   y0=py(9), y1=py(9), line=dict(color="#c8c8c8", width=2)))
shapes.append(dict(type="rect", xref="paper", yref="paper", x0=px(835), x1=px(840),
                   y0=py(0), y1=py(H), fillcolor="black", line=dict(width=0)))

# legend box with shadow
shapes.append(dict(type="rect", xref="paper", yref="paper", x0=px(120), x1=px(438),
                   y0=py(12), y1=py(141), fillcolor="black", line=dict(width=0)))
shapes.append(dict(type="rect", xref="paper", yref="paper", x0=px(115), x1=px(432),
                   y0=py(7), y1=py(135), fillcolor="#e4e4e4",
                   line=dict(color="black", width=1)))

# title box with shadow
shapes.append(dict(type="rect", xref="paper", yref="paper", x0=px(547), x1=px(839),
                   y0=py(17), y1=py(61), fillcolor="black", line=dict(width=0)))
shapes.append(dict(type="rect", xref="paper", yref="paper", x0=px(543), x1=px(835),
                   y0=py(13), y1=py(57), fillcolor="white",
                   line=dict(color="black", width=1)))

annotations = []
legend_order = [("mag", SERIES_NAMES[0]), ("green", SERIES_NAMES[1]),
                ("blue", SERIES_NAMES[2]), ("brown", SERIES_NAMES[3]),
                ("red", SERIES_NAMES[4])]
legend_y = [23, 47, 72, 98, 123]
for (key, name), yy in zip(legend_order, legend_y):
    shapes.append(dict(type="line", xref="paper", yref="paper", x0=px(122), x1=px(185),
                       y0=py(yy), y1=py(yy), line=dict(color=COLORS[key], width=1.5)))
    annotations.append(dict(xref="paper", yref="paper", x=px(196), y=py(yy),
                            xanchor="left", yanchor="middle", showarrow=False,
                            text=name, font=dict(family=FONT, size=13, color="#404040")))

annotations.append(dict(xref="paper", yref="paper", x=px(689), y=py(36),
                        xanchor="center", yanchor="middle", showarrow=False,
                        text="H2 AS_Q Band Powers",
                        font=dict(family=FONT, size=26, color="#0000ff", weight="bold")))
annotations.append(dict(xref="paper", yref="paper", x=px(40), y=py(273),
                        xanchor="center", yanchor="middle", showarrow=False, textangle=-90,
                        text="Signal (*)",
                        font=dict(family=FONT, size=22, color="black", weight="bold")))
annotations.append(dict(xref="paper", yref="paper", x=px(455), y=py(545),
                        xanchor="center", yanchor="middle", showarrow=False,
                        text="Time (h)",
                        font=dict(family=FONT, size=22, color="black", weight="bold")))
annotations.append(dict(xref="paper", yref="paper", x=px(20), y=py(580),
                        xanchor="left", yanchor="middle", showarrow=False,
                        text="T0=08/03/2003 19:50:39",
                        font=dict(family=FONT, size=22, color="black", weight="bold")))
annotations.append(dict(xref="paper", yref="paper", x=px(400), y=py(580),
                        xanchor="left", yanchor="middle", showarrow=False,
                        text="Avg=1",
                        font=dict(family=FONT, size=22, color="black", weight="bold")))

fig.update_layout(shapes=shapes, annotations=annotations)
fig.write_html("out.html")
